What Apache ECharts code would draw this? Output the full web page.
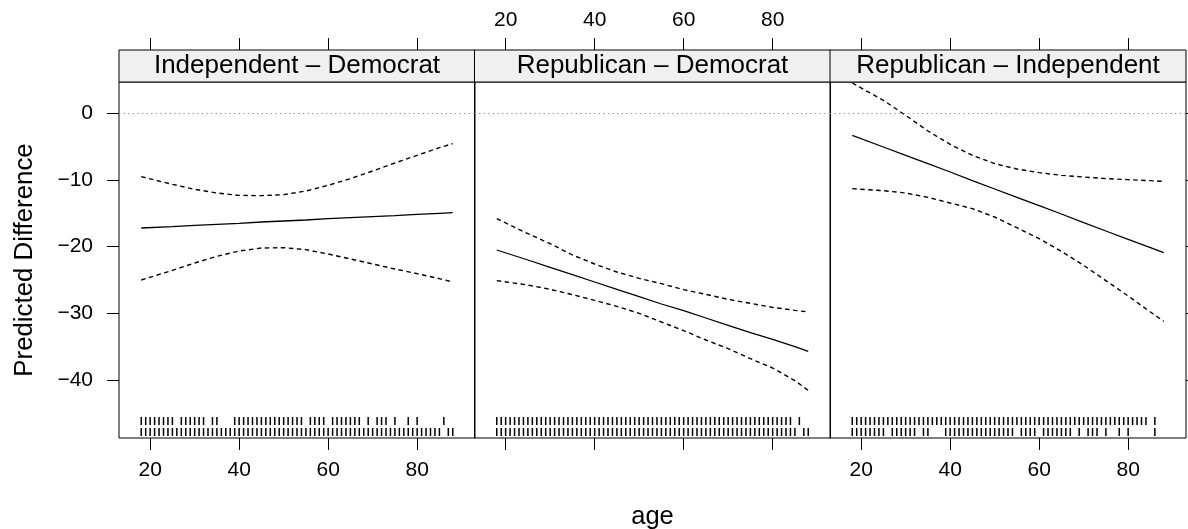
<!DOCTYPE html>
<html>
<head>
<meta charset="utf-8">
<script src="https://cdn.jsdelivr.net/npm/echarts@6/dist/echarts.min.js"></script>
<style>
    html, body { margin: 0; padding: 0; background: #fff; }
    #chart { width: 1188px; height: 529px; }
</style>
</head>
<body>
<div id="chart"></div>
<script>
    // ages at which the fitted difference and its bounds were read
    var ageGrid = [18, 25, 30, 35, 40, 45, 50, 55, 60, 65, 70, 75, 80, 85, 88];

    var panelTitles = ['Independent \u2013 Democrat', 'Republican \u2013 Democrat', 'Republican \u2013 Independent'];

    // Independent - Democrat
    var indDemFit = [-17.2, -17.0, -16.8, -16.65, -16.5, -16.3, -16.15, -16.0, -15.8, -15.65, -15.5, -15.35, -15.15, -15.0, -14.9];
    var indDemHi = [-9.5, -10.65, -11.4, -11.95, -12.3, -12.35, -12.2, -11.65, -10.8, -9.8, -8.65, -7.45, -6.3, -5.15, -4.55];
    var indDemLo = [-25.0, -23.55, -22.45, -21.45, -20.65, -20.2, -20.15, -20.45, -21.1, -21.85, -22.6, -23.35, -24.05, -24.8, -25.3];

    // Republican - Democrat
    var repDemFit = [-20.5, -22.0, -23.1, -24.2, -25.3, -26.4, -27.5, -28.6, -29.6, -30.7, -31.8, -32.9, -33.9, -35.0, -35.7];
    var repDemHi = [-15.8, -18.05, -19.55, -21.25, -22.6, -23.8, -24.75, -25.55, -26.45, -27.15, -27.9, -28.5, -29.1, -29.55, -29.8];
    var repDemLo = [-25.1, -25.75, -26.4, -27.2, -28.05, -28.95, -30.0, -31.3, -32.6, -34.0, -35.3, -36.8, -38.2, -40.1, -41.55];

    // Republican - Independent
    var repIndFit = [-3.3, -5.05, -6.3, -7.55, -8.8, -10.1, -11.35, -12.6, -13.85, -15.1, -16.4, -17.65, -18.9, -20.15, -20.9];
    var repIndHi = [4.55, 1.95, -0.3, -2.65, -4.65, -6.3, -7.55, -8.35, -8.9, -9.3, -9.55, -9.8, -9.95, -10.1, -10.2];
    var repIndLo = [-11.3, -11.6, -11.95, -12.6, -13.45, -14.3, -15.55, -17.15, -18.8, -20.7, -22.8, -25.1, -27.4, -29.8, -31.2];

    // observed ages (rug) per party
    var demAges = [18, 19, 20, 21, 22, 23, 24, 25, 26, 27, 28, 29, 30, 31, 32, 33, 34, 35, 36, 37, 38, 39, 40, 41, 42, 43, 44, 45, 46, 47, 48, 49, 50, 51, 52, 53, 54, 55, 56, 57, 58, 59, 60, 61, 62, 63, 64, 65, 66, 67, 68, 69, 70, 71, 72, 73, 74, 75, 76, 77, 78, 79, 80, 81, 82, 83, 84, 85, 87, 88];
    var repAges = [18, 19, 20, 21, 22, 23, 24, 25, 26, 27, 28, 29, 30, 31, 32, 33, 34, 35, 36, 37, 38, 39, 40, 41, 42, 43, 44, 45, 46, 47, 48, 49, 50, 51, 52, 53, 54, 55, 56, 57, 58, 59, 60, 61, 62, 63, 64, 65, 66, 67, 68, 69, 70, 71, 72, 73, 74, 75, 76, 77, 78, 79, 80, 81, 82, 83, 84, 86];
    var indAges = [18, 19, 20, 21, 22, 23, 24, 25, 27, 28, 29, 30, 31, 32, 34, 35, 39, 40, 41, 42, 43, 44, 45, 46, 47, 48, 49, 50, 51, 52, 53, 54, 56, 57, 58, 59, 61, 62, 63, 64, 65, 66, 67, 69, 71, 72, 73, 75, 78, 80, 86];

    var xTicks = [20, 40, 60, 80];
    var yTicks = [-40, -30, -20, -10, 0];

    var panels = [
        { fit: indDemFit, hi: indDemHi, lo: indDemLo, rugTop: indAges, rugBottom: demAges },
        { fit: repDemFit, hi: repDemHi, lo: repDemLo, rugTop: repAges, rugBottom: demAges },
        { fit: repIndFit, hi: repIndHi, lo: repIndLo, rugTop: repAges, rugBottom: indAges }
    ];

    var X_MIN = 13, X_MAX = 93, Y_MIN = -48.7, Y_MAX = 4.7;
    var gridLefts = [119, 474.5, 830];
    var GRID_W = 356, GRID_TOP = 82, GRID_H = 356, STRIP_H = 32;
    var FONT = '"Liberation Sans", Arial, Helvetica, sans-serif';

    var minusFmt = function (v) { return v < 0 ? '\u2212' + Math.abs(v) : String(v); };
    var pairs = function (vals) { return ageGrid.map(function (a, k) { return [a, vals[k]]; }); };

    var grids = [], xAxes = [], yAxes = [], series = [], graphics = [];

    panels.forEach(function (p, i) {
        grids.push({
            left: gridLefts[i], top: GRID_TOP, width: GRID_W, height: GRID_H,
            outerBoundsMode: 'none', containLabel: false,
            show: true, borderColor: '#000', borderWidth: 1, backgroundColor: 'transparent'
        });

        var tickStyle = { show: true, length: 12, lineStyle: { color: '#000', width: 1 }, customValues: xTicks };
        xAxes.push({
            gridIndex: i, type: 'value', min: X_MIN, max: X_MAX, position: 'bottom',
            axisLine: { show: false, onZero: false }, splitLine: { show: false },
            axisTick: tickStyle,
            axisLabel: { show: i !== 1, customValues: xTicks, fontSize: 21, margin: 22, color: '#000', fontFamily: FONT },
            name: i === 1 ? 'age' : '', nameLocation: 'middle', nameGap: 66,
            nameTextStyle: { fontSize: 25.5, color: '#000', fontFamily: FONT }
        });
        xAxes.push({
            gridIndex: i, type: 'value', min: X_MIN, max: X_MAX, position: 'top', offset: STRIP_H,
            axisLine: { show: false, onZero: false }, splitLine: { show: false },
            axisTick: tickStyle,
            axisLabel: { show: i === 1, customValues: xTicks, fontSize: 21, margin: 19, color: '#000', fontFamily: FONT }
        });

        yAxes.push({
            gridIndex: i, type: 'value', min: Y_MIN, max: Y_MAX, position: i === 2 ? 'right' : 'left',
            axisLine: { show: false, onZero: false }, splitLine: { show: false },
            axisTick: { show: i !== 1, length: 12, lineStyle: { color: '#000', width: 1 }, customValues: yTicks },
            axisLabel: { show: i === 0, customValues: yTicks, fontSize: 21, margin: 26, color: '#000', fontFamily: FONT, formatter: minusFmt },
            name: i === 0 ? 'Predicted Difference' : '', nameLocation: 'middle', nameGap: 81, nameRotate: 90,
            nameTextStyle: { fontSize: 25.8, color: '#000', fontFamily: FONT }
        });

        var base = { type: 'line', xAxisIndex: 2 * i, yAxisIndex: i, symbol: 'none', silent: true };
        series.push(Object.assign({}, base, {
            data: pairs(p.fit),
            lineStyle: { color: '#000', width: 1.3 },
            markLine: {
                silent: true, symbol: 'none', label: { show: false },
                lineStyle: { color: '#8c8c8c', width: 1.2, type: [1.3, 3.3] },
                data: [{ yAxis: 0 }]
            }
        }));
        series.push(Object.assign({}, base, { data: pairs(p.hi), lineStyle: { color: '#000', width: 1.4, type: [4.5, 3.5] } }));
        series.push(Object.assign({}, base, { data: pairs(p.lo), lineStyle: { color: '#000', width: 1.4, type: [4.5, 3.5] } }));

        [[p.rugTop, 13, 21], [p.rugBottom, 2, 10]].forEach(function (r) {
            var near = r[1], far = r[2];
            series.push({
                type: 'custom', xAxisIndex: 2 * i, yAxisIndex: i, silent: true,
                data: r[0].map(function (a) { return [a]; }),
                renderItem: function (params, api) {
                    var pt = api.coord([api.value(0), Y_MIN]);
                    return {
                        type: 'line',
                        shape: { x1: pt[0], y1: pt[1] - near, x2: pt[0], y2: pt[1] - far },
                        style: { stroke: '#000', lineWidth: 1.5 }
                    };
                }
            });
        });

        graphics.push({
            type: 'rect', z: 10,
            shape: { x: gridLefts[i], y: GRID_TOP - STRIP_H, width: GRID_W, height: STRIP_H },
            style: { fill: '#f0f0f0', stroke: '#000', lineWidth: 1 }
        });
        graphics.push({
            type: 'text', z: 11, x: gridLefts[i] + GRID_W / 2, y: GRID_TOP - STRIP_H / 2,
            style: { text: panelTitles[i], fontSize: 26, fontFamily: FONT, fill: '#000', align: 'center', verticalAlign: 'middle' }
        });
    });

    var chart = echarts.init(document.getElementById('chart'));
    chart.setOption({
        animation: false,
        backgroundColor: '#fff',
        grid: grids,
        xAxis: xAxes,
        yAxis: yAxes,
        series: series,
        graphic: graphics
    });
</script>
</body>
</html>
